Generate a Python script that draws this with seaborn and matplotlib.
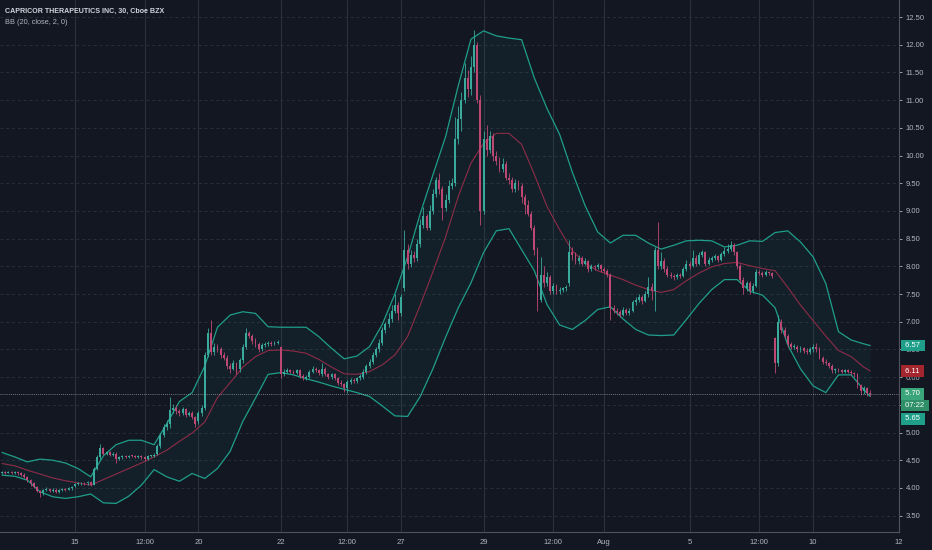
import matplotlib
matplotlib.use("Agg")
import numpy as np
import pandas as pd
import matplotlib.pyplot as plt
import seaborn as sns

# ---------------------------------------------------------------
# 30 min bars, CAPRICOR (CAPR), 13 Jul -> 11 Aug, one row per session
# ---------------------------------------------------------------
opens = [
    4.27, 4.28, 4.27, 4.29, 4.27, 4.28, 4.26, 4.24, 4.20, 4.14,                     # 13
    4.08, 4.02, 3.95, 3.90, 3.96, 3.98, 3.95, 3.97, 3.92, 3.96, 3.98, 3.97, 3.99,   # 14
    4.04, 4.07, 4.08, 4.09, 4.08, 4.10, 4.06, 4.35, 4.55, 4.72, 4.62, 4.64, 4.60,   # 15
    4.62, 4.52, 4.55, 4.57, 4.56, 4.58, 4.57, 4.56, 4.57, 4.55, 4.52, 4.57, 4.58,   # 16
    4.62, 4.75, 4.95, 5.10, 5.15, 5.40, 5.45, 5.38, 5.35, 5.42, 5.32, 5.35, 5.28,   # 17
    5.20, 5.35, 5.45, 6.40, 6.80, 6.45, 6.55, 6.50, 6.40, 6.35, 6.20, 6.15, 6.25,   # 20
    6.15, 6.30, 6.55, 6.80, 6.75, 6.65, 6.60, 6.50, 6.58, 6.60, 6.62, 6.60, 6.62,   # 21
    6.55, 6.05, 6.10, 6.12, 6.10, 6.08, 6.12, 6.02, 5.98, 6.00, 6.10, 6.15, 6.12,   # 22
    6.05, 6.15, 6.05, 6.00, 6.05, 5.98, 5.90, 5.88, 5.80, 5.92, 5.95, 5.93, 5.98,   # 23
    6.00, 6.10, 6.20, 6.28, 6.40, 6.50, 6.62, 6.85, 6.95, 7.05, 7.20, 7.30, 7.15,   # 24
    7.60, 8.30, 8.05, 8.20, 8.15, 8.40, 8.75, 8.90, 8.70, 9.00, 9.30, 9.55, 9.40,   # 27
    9.05, 9.20, 9.45, 9.50, 10.30, 10.65, 11.00, 11.40, 11.20, 11.60, 12.00, 11.00, 9.00,  # 28
    10.30, 10.10, 10.35, 10.00, 9.90, 9.75, 9.85, 9.60, 9.55, 9.40, 9.50, 9.45, 9.25,  # 29
    9.10, 8.95, 8.70, 8.30, 7.40, 7.85, 7.70, 7.80, 7.55, 7.65, 7.55, 7.58, 7.60,   # 30
    7.70, 8.25, 8.20, 8.10, 8.15, 8.05, 8.10, 7.95, 8.00, 7.98, 8.02, 7.95, 7.92,   # 31
    7.85, 7.25, 7.20, 7.18, 7.12, 7.22, 7.15, 7.20, 7.35, 7.40, 7.45, 7.38, 7.50,   # Aug 3
    7.62, 7.55, 8.30, 8.00, 8.10, 7.95, 7.85, 7.82, 7.80, 7.85, 7.82, 7.95, 8.05,   # 4
    8.00, 8.15, 8.05, 8.20, 8.25, 8.05, 8.12, 8.15, 8.18, 8.12, 8.22, 8.28, 8.32,   # 5
    8.38, 8.25, 8.00, 7.75, 7.60, 7.70, 7.55, 7.65, 7.90, 7.88, 7.85, 7.90, 7.88,   # 6
    6.70, 6.25, 7.00, 6.85, 6.75, 6.60, 6.55, 6.55, 6.50, 6.52, 6.48, 6.45, 6.50,   # 7
    6.55, 6.50, 6.35, 6.28, 6.25, 6.20, 6.12, 6.14, 6.12, 6.10, 6.12, 6.10, 6.08,   # 10
    6.05, 5.85, 5.75, 5.80, 5.72,                                                   # 11
]
highs = [
    4.31, 4.30, 4.31, 4.31, 4.30, 4.30, 4.28, 4.26, 4.22, 4.16,
    4.10, 4.04, 3.97, 3.98, 4.01, 4.00, 3.99, 3.99, 3.98, 4.00, 4.00, 4.01, 4.04,
    4.09, 4.10, 4.11, 4.11, 4.12, 4.12, 4.38, 4.60, 4.79, 4.74, 4.67, 4.66, 4.65,
    4.64, 4.57, 4.59, 4.59, 4.60, 4.60, 4.59, 4.59, 4.59, 4.57, 4.59, 4.60, 4.63,
    4.80, 5.00, 5.15, 5.22, 5.64, 5.52, 5.50, 5.42, 5.46, 5.45, 5.38, 5.38, 5.30,
    5.38, 5.50, 6.45, 6.88, 7.03, 6.62, 6.60, 6.55, 6.45, 6.40, 6.25, 6.30, 6.28,
    6.35, 6.60, 6.88, 6.84, 6.78, 6.70, 6.64, 6.62, 6.64, 6.65, 6.65, 6.66, 6.67,
    6.57, 6.14, 6.16, 6.15, 6.13, 6.15, 6.14, 6.05, 6.03, 6.13, 6.20, 6.18, 6.15,
    6.25, 6.18, 6.08, 6.08, 6.08, 6.00, 5.94, 5.90, 5.95, 5.98, 5.98, 6.00, 6.05,
    6.14, 6.24, 6.32, 6.45, 6.55, 6.68, 6.90, 7.00, 7.15, 7.30, 7.50, 7.35, 7.50,
    8.65, 8.40, 8.30, 8.28, 8.50, 8.85, 9.07, 8.95, 9.10, 9.40, 9.62, 9.68, 9.45,
    9.30, 9.55, 9.60, 10.70, 10.90, 11.15, 11.67, 11.55, 11.80, 12.27, 12.05, 11.10, 10.45,
    10.55, 10.45, 10.40, 10.08, 9.98, 9.95, 9.90, 9.68, 9.62, 9.58, 9.55, 9.50, 9.30,
    9.20, 9.00, 8.75, 8.35, 8.17, 8.00, 7.90, 7.85, 7.70, 7.68, 7.62, 7.63, 7.66,
    8.47, 8.35, 8.25, 8.20, 8.18, 8.15, 8.12, 8.04, 8.03, 8.06, 8.05, 7.98, 7.95,
    7.88, 7.30, 7.25, 7.22, 7.26, 7.25, 7.24, 7.40, 7.45, 7.50, 7.48, 7.55, 7.80,
    7.70, 8.35, 8.80, 8.25, 8.15, 8.00, 7.90, 7.86, 7.88, 7.88, 7.98, 8.12, 8.10,
    8.30, 8.20, 8.25, 8.30, 8.28, 8.16, 8.18, 8.22, 8.20, 8.26, 8.34, 8.40, 8.45,
    8.42, 8.28, 8.05, 7.80, 7.74, 7.74, 7.70, 7.95, 7.94, 7.92, 7.94, 7.92, 7.90,
    6.72, 7.12, 7.05, 6.90, 6.78, 6.64, 6.60, 6.58, 6.56, 6.55, 6.52, 6.54, 6.60,
    6.62, 6.55, 6.38, 6.32, 6.28, 6.24, 6.17, 6.16, 6.15, 6.14, 6.15, 6.13, 6.10,
    6.08, 5.88, 5.84, 5.82, 5.76,
]
lows = [
    4.25, 4.25, 4.26, 4.25, 4.25, 4.24, 4.22, 4.18, 4.10, 4.04,
    4.00, 3.92, 3.84, 3.88, 3.94, 3.93, 3.93, 3.90, 3.91, 3.94, 3.95, 3.96, 3.97,
    4.02, 4.05, 4.06, 4.06, 4.06, 4.03, 4.05, 4.32, 4.52, 4.60, 4.60, 4.57, 4.58,
    4.45, 4.50, 4.53, 4.54, 4.54, 4.55, 4.54, 4.54, 4.53, 4.48, 4.50, 4.55, 4.56,
    4.60, 4.72, 4.92, 5.05, 5.08, 5.35, 5.34, 5.30, 5.32, 5.28, 5.30, 5.24, 5.10,
    5.15, 5.30, 5.40, 6.36, 6.40, 6.40, 6.45, 6.35, 6.30, 6.15, 6.08, 6.12, 6.05,
    6.10, 6.25, 6.50, 6.70, 6.60, 6.55, 6.45, 6.48, 6.55, 6.57, 6.57, 6.58, 6.59,
    5.98, 6.02, 6.07, 6.07, 6.05, 6.05, 5.98, 5.94, 5.95, 5.98, 6.08, 6.09, 6.04,
    6.02, 6.02, 5.96, 5.97, 5.95, 5.86, 5.84, 5.74, 5.71, 5.88, 5.90, 5.90, 5.95,
    5.97, 6.06, 6.16, 6.24, 6.36, 6.46, 6.58, 6.80, 6.90, 7.00, 7.15, 7.03, 7.10,
    7.55, 7.95, 7.98, 8.08, 8.10, 8.35, 8.70, 8.65, 8.65, 8.95, 9.25, 9.30, 8.83,
    9.00, 9.15, 9.40, 9.45, 10.20, 10.45, 10.95, 11.05, 11.10, 11.50, 10.95, 8.75, 8.95,
    10.00, 10.05, 9.90, 9.82, 9.70, 9.70, 9.55, 9.48, 9.35, 9.35, 9.38, 9.15, 8.95,
    8.90, 8.65, 8.20, 7.20, 7.35, 7.62, 7.65, 7.50, 7.50, 7.50, 7.50, 7.54, 7.56,
    7.65, 8.12, 8.05, 8.05, 8.00, 8.02, 7.90, 7.92, 7.94, 7.95, 7.90, 7.88, 7.80,
    7.03, 7.15, 7.12, 7.08, 7.10, 7.12, 7.12, 7.18, 7.30, 7.36, 7.32, 7.35, 7.45,
    7.40, 7.20, 7.95, 7.95, 7.90, 7.80, 7.78, 7.76, 7.77, 7.78, 7.80, 7.92, 7.95,
    7.98, 8.00, 8.02, 8.16, 8.00, 8.02, 8.08, 8.12, 8.08, 8.10, 8.18, 8.24, 8.28,
    8.20, 7.95, 7.70, 7.50, 7.55, 7.50, 7.52, 7.62, 7.84, 7.80, 7.82, 7.84, 7.78,
    6.07, 6.20, 6.80, 6.70, 6.55, 6.50, 6.50, 6.45, 6.46, 6.44, 6.42, 6.42, 6.46,
    6.45, 6.32, 6.24, 6.22, 6.16, 6.08, 6.08, 6.09, 6.07, 6.07, 6.07, 6.04, 6.00,
    5.80, 5.68, 5.70, 5.66, 5.65,
]
closes = [
    4.28, 4.27, 4.29, 4.27, 4.28, 4.26, 4.24, 4.20, 4.14, 4.08,
    4.02, 3.95, 3.90, 3.96, 3.98, 3.95, 3.97, 3.92, 3.96, 3.98, 3.97, 3.99, 4.02,
    4.07, 4.08, 4.09, 4.08, 4.10, 4.06, 4.35, 4.55, 4.72, 4.62, 4.64, 4.60, 4.62,
    4.52, 4.55, 4.57, 4.56, 4.58, 4.57, 4.56, 4.57, 4.55, 4.52, 4.57, 4.58, 4.60,
    4.75, 4.95, 5.10, 5.15, 5.40, 5.45, 5.38, 5.35, 5.42, 5.32, 5.35, 5.28, 5.15,
    5.35, 5.45, 6.40, 6.80, 6.45, 6.55, 6.50, 6.40, 6.35, 6.20, 6.15, 6.25, 6.10,
    6.30, 6.55, 6.80, 6.75, 6.65, 6.60, 6.50, 6.58, 6.60, 6.62, 6.60, 6.62, 6.63,
    6.05, 6.10, 6.12, 6.10, 6.08, 6.12, 6.02, 5.98, 6.00, 6.10, 6.15, 6.12, 6.08,
    6.15, 6.05, 6.00, 6.05, 5.98, 5.90, 5.88, 5.80, 5.92, 5.95, 5.93, 5.98, 6.02,
    6.10, 6.20, 6.28, 6.40, 6.50, 6.62, 6.85, 6.95, 7.05, 7.20, 7.30, 7.15, 7.45,
    8.30, 8.05, 8.20, 8.15, 8.40, 8.75, 8.90, 8.70, 9.00, 9.30, 9.55, 9.40, 9.05,
    9.20, 9.45, 9.50, 10.30, 10.65, 11.00, 11.40, 11.20, 11.60, 12.00, 11.00, 9.00, 10.30,
    10.10, 10.35, 10.00, 9.90, 9.75, 9.85, 9.60, 9.55, 9.40, 9.50, 9.45, 9.25, 9.10,
    8.95, 8.70, 8.30, 7.40, 7.85, 7.70, 7.80, 7.55, 7.65, 7.55, 7.58, 7.60, 7.62,
    8.25, 8.20, 8.10, 8.15, 8.05, 8.10, 7.95, 8.00, 7.98, 8.02, 7.95, 7.92, 7.85,
    7.25, 7.20, 7.18, 7.12, 7.22, 7.15, 7.20, 7.35, 7.40, 7.45, 7.38, 7.50, 7.62,
    7.55, 8.30, 8.00, 8.10, 7.95, 7.85, 7.82, 7.80, 7.85, 7.82, 7.95, 8.05, 8.00,
    8.15, 8.05, 8.20, 8.25, 8.05, 8.12, 8.15, 8.18, 8.12, 8.22, 8.28, 8.32, 8.38,
    8.25, 8.00, 7.75, 7.60, 7.70, 7.55, 7.65, 7.90, 7.88, 7.85, 7.90, 7.88, 7.82,
    6.25, 7.00, 6.85, 6.75, 6.60, 6.55, 6.55, 6.50, 6.52, 6.48, 6.45, 6.50, 6.55,
    6.50, 6.35, 6.28, 6.25, 6.20, 6.12, 6.14, 6.12, 6.10, 6.12, 6.10, 6.08, 6.05,
    5.85, 5.75, 5.80, 5.72, 5.70,
]

# Bollinger Bands (20, close, 2), every 4th bar + last bar
band_bars = list(range(0, 273, 4)) + [274]
bb_upper = [
    4.64, 4.56, 4.47, 4.52, 4.50, 4.45, 4.35, 4.20, 4.58, 4.78,
    4.86, 4.86, 4.78, 5.16, 5.56, 5.72, 6.20, 6.90, 7.12, 7.18,
    7.15, 6.91, 6.90, 6.90, 6.90, 6.73, 6.52, 6.33, 6.38, 6.55,
    6.95, 7.50, 8.17, 8.95, 9.65, 10.34, 11.26, 12.10, 12.25, 12.16,
    12.12, 12.09, 11.40, 10.85, 10.38, 9.70, 9.10, 8.62, 8.42, 8.56,
    8.56, 8.42, 8.31, 8.38, 8.46, 8.47, 8.46, 8.35, 8.38, 8.46,
    8.45, 8.61, 8.64, 8.44, 8.17, 7.69, 6.82, 6.67, 6.60, 6.57,
]
bb_basis = [
    4.44, 4.40, 4.32, 4.25, 4.18, 4.13, 4.09, 4.05, 4.15, 4.25,
    4.35, 4.45, 4.56, 4.68, 4.84, 4.99, 5.19, 5.63, 5.90, 6.18,
    6.37, 6.48, 6.49, 6.47, 6.43, 6.32, 6.18, 6.06, 6.05, 6.10,
    6.22, 6.40, 6.73, 7.30, 7.90, 8.53, 9.26, 9.86, 10.22, 10.40,
    10.40, 10.20, 9.66, 9.08, 8.66, 8.28, 8.06, 7.92, 7.84, 7.76,
    7.66, 7.58, 7.53, 7.58, 7.74, 7.88, 7.99, 8.05, 8.07, 8.01,
    7.96, 7.92, 7.62, 7.30, 7.02, 6.74, 6.48, 6.37, 6.18, 6.11,
]
bb_lower = [
    4.23, 4.21, 4.14, 3.93, 3.84, 3.81, 3.84, 3.89, 3.73, 3.72,
    3.85, 4.05, 4.33, 4.20, 4.12, 4.26, 4.17, 4.35, 4.66, 5.20,
    5.62, 6.05, 6.08, 6.04, 5.97, 5.91, 5.84, 5.78, 5.72, 5.65,
    5.48, 5.30, 5.29, 5.65, 6.15, 6.72, 7.25, 7.70, 8.25, 8.64,
    8.68, 8.30, 7.92, 7.31, 6.94, 6.86, 7.02, 7.22, 7.27, 7.05,
    6.86, 6.76, 6.75, 6.76, 7.04, 7.33, 7.58, 7.76, 7.76, 7.55,
    7.48, 7.25, 6.58, 6.15, 5.84, 5.72, 6.04, 6.04, 5.77, 5.65,
]

# time axis labels (bar index they sit on)
time_ticks = [23, 45, 62, 88, 109, 126, 152, 174, 190, 217, 239, 256, 283]
time_labels = ["15", "12:00", "20", "22", "12:00", "27", "29", "12:00",
               "Aug", "5", "12:00", "10", "12"]
price_ticks = [3.5, 4.0, 4.5, 5.0, 5.5, 6.0, 6.5, 7.0, 7.5, 8.0,
               8.5, 9.0, 9.5, 10.0, 10.5, 11.0, 11.5, 12.0, 12.5]
last_price = 5.70

# ---------------------------------------------------------------
BG = "#131722"
GRID_H = "#2a2e39"
GRID_V = "#2c303b"
UP = "#3aaa9c"
DOWN = "#bd4874"
BAND = "#1f9e8a"
BASIS = "#8e2c48"
TXT = "#b2b5be"

sns.set_theme(style="dark", rc={"axes.facecolor": BG, "figure.facecolor": BG,
                                "savefig.facecolor": BG})
plt.rcParams["font.family"] = ["Liberation Sans", "DejaVu Sans"]

fig = plt.figure(figsize=(9.32, 5.5), dpi=100)
# plot area: full width up to the price scale, top of figure down to y=532px
ax = fig.add_axes([0, 18 / 550, 899 / 932, 532 / 550])

o = np.array(opens)
h = np.array(highs)
l = np.array(lows)
c = np.array(closes)
assert len(o) == len(h) == len(l) == len(c)
bars = np.arange(len(c))

# grid
for p in price_ticks:
    ax.axhline(p, color=GRID_H, lw=0.7, ls=(0, (3, 3)), zorder=0)
for t in time_ticks:
    ax.axvline(t, color=GRID_V, lw=0.8, zorder=0)

# bollinger bands
bb = pd.DataFrame({"bar": band_bars, "upper": bb_upper,
                   "basis": bb_basis, "lower": bb_lower})
ax.fill_between(bb["bar"], bb["lower"], bb["upper"], color=BAND, alpha=0.07, lw=0, zorder=1)
sns.lineplot(data=bb, x="bar", y="upper", color=BAND, lw=0.9, ax=ax, zorder=2)
sns.lineplot(data=bb, x="bar", y="lower", color=BAND, lw=0.9, ax=ax, zorder=2)
sns.lineplot(data=bb, x="bar", y="basis", color=BASIS, lw=0.8, ax=ax, zorder=2)

# candles
col = np.where(c >= o, UP, DOWN)
ax.vlines(bars, l, h, colors=col, lw=0.6, zorder=3)
body = np.maximum(np.abs(c - o), 0.015)
ax.bar(bars, body, bottom=np.minimum(o, c), width=0.6, color=col, lw=0, zorder=3)

# last price line
ax.axhline(last_price, color="#9598a1", lw=0.6, ls=(0, (1, 1.5)), zorder=4)

ax.set_xlim(-0.63, 283.1)
ax.set_ylim(3.204, 12.807)
ax.set_xlabel("")
ax.set_ylabel("")
ax.yaxis.tick_right()
ax.set_yticks(price_ticks)
ax.set_yticklabels([f"{p:.2f}" for p in price_ticks])
ax.set_xticks(time_ticks)
ax.set_xticklabels(time_labels)
ax.tick_params(axis="y", colors=TXT, labelsize=5.5, length=2, width=0.6, pad=3)
ax.tick_params(axis="x", colors=TXT, labelsize=5.5, length=0, pad=5)
ax.grid(False)
for side in ["top", "left"]:
    ax.spines[side].set_visible(False)
for side in ["right", "bottom"]:
    ax.spines[side].set_color("#50535e")
    ax.spines[side].set_linewidth(0.8)


def price_tag(value, text, fc, dy=0):
    ax.annotate(text, xy=(1, value), xycoords=("axes fraction", "data"),
                xytext=(3, dy), textcoords="offset points", ha="left", va="center",
                fontsize=5.5, color="white", zorder=10, annotation_clip=False,
                bbox=dict(boxstyle="square,pad=0.3", fc=fc, ec="none"))


price_tag(bb_upper[-1], f" {bb_upper[-1]:.2f} ", "#1f9e89")
price_tag(bb_basis[-1], f" {bb_basis[-1]:.2f} ", "#a3262e")
price_tag(last_price, f" {last_price:.2f} ", "#3aa57a")
price_tag(last_price, " 07:22 ", "#2f8f68", dy=-8.6)
price_tag(bb_lower[-1], f" {bb_lower[-1]:.2f} ", "#1f9e89", dy=-16)

fig.text(5 / 932, 1 - 11 / 550, "CAPRICOR THERAPEUTICS INC, 30, Cboe BZX",
         color="#d1d4dc", fontsize=5.1, fontweight="bold", va="center", ha="left")
fig.text(5 / 932, 1 - 23 / 550, "BB (20, close, 2, 0)",
         color="#b2b5be", fontsize=5.3, va="center", ha="left")

fig.savefig("out.png", dpi=100, facecolor=BG)
